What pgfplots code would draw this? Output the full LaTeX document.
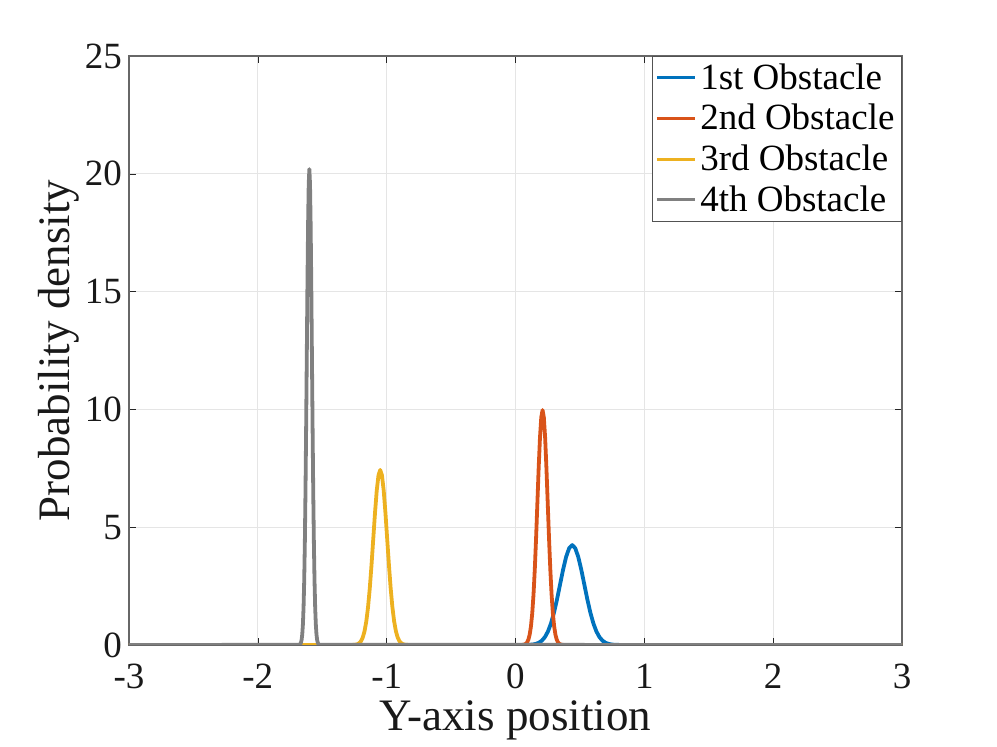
\documentclass[border=0pt]{standalone}
\usepackage{fontspec}
\setmainfont{Liberation Serif}
\usepackage{pgfplots}
\pgfplotsset{compat=1.18}
\definecolor{mblue}{rgb}{0,0.447,0.741}
\definecolor{morange}{rgb}{0.85,0.325,0.098}
\definecolor{myellow}{rgb}{0.929,0.694,0.125}
\definecolor{mgray}{rgb}{0.5,0.5,0.5}
\definecolor{axc}{rgb}{0.15,0.15,0.15}
\begin{document}
\begin{tikzpicture}
\useasboundingbox (-64.5pt,-51pt) rectangle (434pt,322.5pt);
\begin{axis}[
  at={(0,0)}, anchor=south west,
  scale only axis, width=386.5pt, height=294.5pt,
  xmin=-3, xmax=3, ymin=0, ymax=25,
  xtick={-3,-2,-1,0,1,2,3}, ytick={0,5,10,15,20,25},
  grid=major, major grid style={color=black!10, line width=0.4pt},
  tick align=inside, major tick length=3.5pt,
  axis line style={color=axc!70, line width=0.6pt},
  tick style={color=axc},
  /pgf/number format/assume math mode=true,
  ticklabel style={font=\fontsize{18.5}{20}\selectfont, color=black!90},
  xticklabel style={yshift=-6pt},
  xlabel={Y-axis position}, ylabel={Probability density},
  label style={font=\fontsize{22.5}{24}\selectfont, color=black!90},
  xlabel style={yshift=1pt},
  ylabel style={yshift=-4pt},
  legend style={at={(1,1)}, anchor=north east, draw=axc!80, line width=0.5pt,
    font=\fontsize{18.5}{20}\selectfont, inner sep=1.5pt, row sep=2pt,
    legend cell align=left},
  legend image code/.code={\draw[#1, line width=1.5pt] (0pt,0pt) -- (19pt,0pt);},
  every axis plot/.append style={line width=1.9pt, mark=none, line join=round},
]
\addplot[color=mblue] coordinates {
(-3,0) (0.064,0.0014) (0.111,0.0093) (0.1345,0.0215) (0.158,0.0471) (0.1815,0.0967)
(0.205,0.186) (0.2285,0.337) (0.252,0.574) (0.2755,0.917) (0.299,1.377) (0.3225,1.941)
(0.346,2.572) (0.3695,3.200) (0.393,3.742) (0.4165,4.110) (0.44,4.24)
(0.4635,4.110) (0.487,3.742) (0.5105,3.200) (0.534,2.572) (0.5575,1.941) (0.581,1.377)
(0.6045,0.917) (0.628,0.574) (0.6515,0.337) (0.675,0.186) (0.6985,0.0967) (0.722,0.0471)
(0.7455,0.0215) (0.769,0.0093) (0.816,0.0014) (3,0)
};
\addlegendentry{1st Obstacle}
\addplot[color=morange] coordinates {
(-3,0) (0.05,0.0034) (0.07,0.0218) (0.08,0.0506) (0.09,0.111) (0.10,0.227)
(0.11,0.438) (0.12,0.793) (0.13,1.349) (0.14,2.156) (0.15,3.237) (0.16,4.565)
(0.17,6.047) (0.18,7.526) (0.19,8.799) (0.20,9.663) (0.21,9.97)
(0.22,9.663) (0.23,8.799) (0.24,7.526) (0.25,6.047) (0.26,4.565) (0.27,3.237)
(0.28,2.156) (0.29,1.349) (0.30,0.793) (0.31,0.438) (0.32,0.227) (0.33,0.111)
(0.34,0.0506) (0.35,0.0218) (0.37,0.0034) (3,0)
};
\addlegendentry{2nd Obstacle}
\addplot[color=myellow] coordinates {
(-3,0) (-1.266,0.0025) (-1.239,0.0163) (-1.2255,0.0377) (-1.212,0.0825) (-1.1985,0.169)
(-1.185,0.326) (-1.1715,0.591) (-1.158,1.006) (-1.1445,1.607) (-1.131,2.412) (-1.1175,3.402)
(-1.104,4.507) (-1.0905,5.608) (-1.077,6.557) (-1.0635,7.201) (-1.05,7.43)
(-1.0365,7.201) (-1.023,6.557) (-1.0095,5.608) (-0.996,4.507) (-0.9825,3.402) (-0.969,2.412)
(-0.9555,1.607) (-0.942,1.006) (-0.9285,0.591) (-0.915,0.326) (-0.9015,0.169) (-0.888,0.0825)
(-0.8745,0.0377) (-0.861,0.0163) (-0.834,0.0025) (3,0)
};
\addlegendentry{3rd Obstacle}
\addplot[color=mgray] coordinates {
(-3,0) (-1.68,0.0069) (-1.67,0.0442) (-1.665,0.103) (-1.66,0.224) (-1.655,0.461)
(-1.65,0.888) (-1.645,1.607) (-1.64,2.734) (-1.635,4.369) (-1.63,6.558) (-1.625,9.248)
(-1.62,12.25) (-1.615,15.25) (-1.61,17.83) (-1.605,19.58) (-1.60,20.2)
(-1.595,19.58) (-1.59,17.83) (-1.585,15.25) (-1.58,12.25) (-1.575,9.248) (-1.57,6.558)
(-1.565,4.369) (-1.56,2.734) (-1.555,1.607) (-1.55,0.888) (-1.545,0.461) (-1.54,0.224)
(-1.535,0.103) (-1.53,0.0442) (-1.52,0.0069) (3,0)
};
\addlegendentry{4th Obstacle}
\end{axis}
\end{tikzpicture}
\end{document}
